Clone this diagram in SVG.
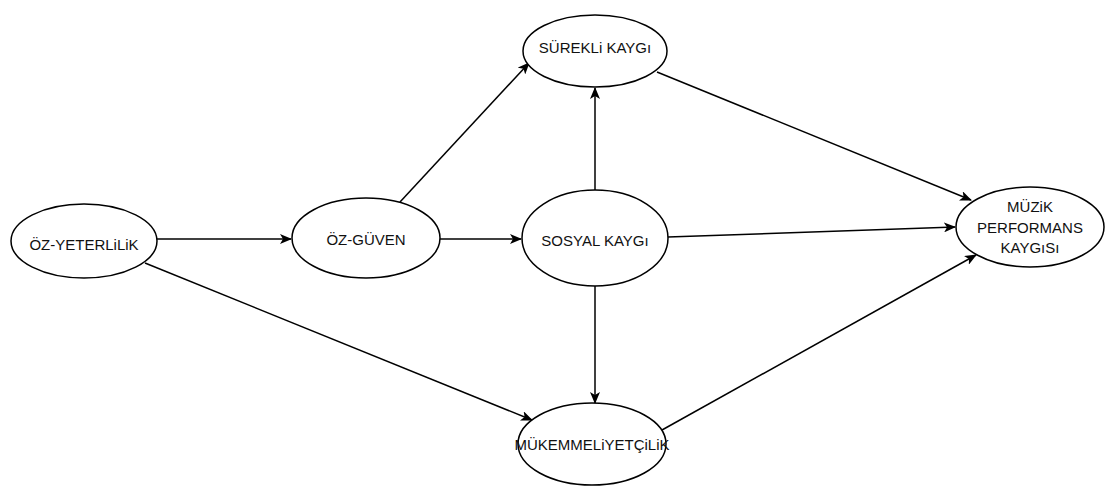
<svg xmlns="http://www.w3.org/2000/svg" width="1106" height="488" viewBox="0 0 1106 488">
<style>
.n ellipse{fill:#fff;stroke:#000;stroke-width:1.5}
.n text{font-family:"Liberation Sans",Arial,sans-serif;font-size:15px;fill:#111;text-anchor:middle}
.e line{stroke:#000;stroke-width:1.5;fill:none;marker-end:url(#ah)}
</style>
<defs>
<marker id="ah" viewBox="0 0 12 10" refX="11" refY="5" markerWidth="12" markerHeight="10" markerUnits="userSpaceOnUse" orient="auto">
<path d="M0,0 L12,5 L0,10 L3,5 Z" fill="#000"/>
</marker>
</defs>
<rect width="1106" height="488" fill="#fff"/>
<g id="connectors" class="e">
<line x1="157" y1="239" x2="291" y2="239"/>
<line x1="145" y1="263" x2="532" y2="420"/>
<line x1="400" y1="202" x2="529" y2="63"/>
<line x1="440" y1="239" x2="521" y2="239"/>
<line x1="595" y1="190" x2="595" y2="88"/>
<line x1="668" y1="237" x2="955" y2="227"/>
<line x1="595" y1="286" x2="595" y2="403"/>
<line x1="657" y1="72" x2="971" y2="200"/>
<line x1="662" y1="430" x2="976" y2="255"/>
</g>
<g id="oz-yeterlilik" class="n"><ellipse cx="84" cy="241" rx="73" ry="37"/><text x="84" y="250">ÖZ-YETERLiLiK</text></g>
<g id="oz-guven" class="n"><ellipse cx="366" cy="238" rx="74" ry="40"/><text x="366" y="245">ÖZ-GÜVEN</text></g>
<g id="sosyal-kaygi" class="n"><ellipse cx="595" cy="238" rx="73" ry="48"/><text x="595" y="246">SOSYAL KAYGı</text></g>
<g id="surekli-kaygi" class="n"><ellipse cx="595" cy="51" rx="72" ry="36"/><text x="595" y="53">SÜREKLi KAYGı</text></g>
<g id="muzik-performans-kaygisi" class="n"><ellipse cx="1030" cy="227" rx="74" ry="40"/><text x="1030" y="212">MÜZiK</text><text x="1030" y="233">PERFORMANS</text><text x="1030" y="253">KAYGıSı</text></g>
<g id="mukemmeliyetcilik" class="n"><ellipse cx="592" cy="444" rx="74" ry="41"/><text x="592" y="450">MÜKEMMELiYETÇiLiK</text></g>
</svg>
